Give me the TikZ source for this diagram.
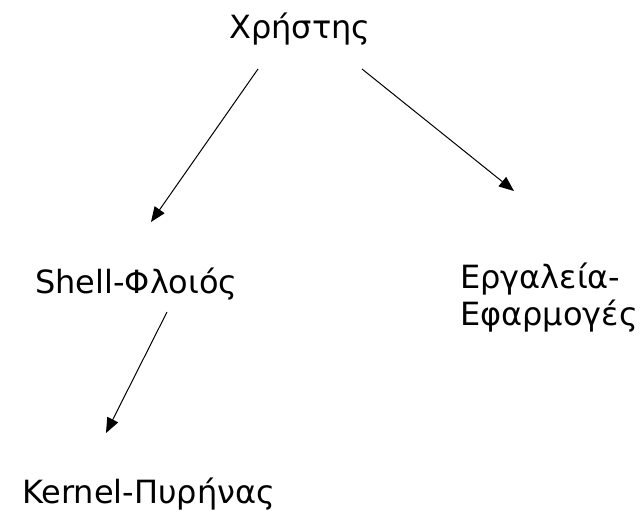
\documentclass[tikz,border=0pt]{standalone}
\usepackage{fontspec}
\setmainfont{DejaVu Sans}
\usetikzlibrary{arrows.meta}

\begin{document}
\begin{tikzpicture}[x=1pt,y=-1pt,
    every node/.style={inner sep=0pt,font=\fontsize{32}{37}\selectfont},
    arr/.style={-{Triangle[length=15pt,width=12pt]},line width=1pt}]
  \useasboundingbox (0,0) rectangle (641,515);
  \node[anchor=base] (user) at (300,38) {Χρήστης};
  \node[anchor=base west] (shell) at (35,293) {Shell-Φλοιός};
  \node[anchor=base west,align=left] (tools) at (460,325) {Εργαλεία-\\Εφαρμογές};
  \node[anchor=base west] (kernel) at (22,503) {Kernel-Πυρήνας};

  \draw[arr] ([shift={(-42,31)}]user.base) -- ([shift={(116,-71)}]shell.base west);
  \draw[arr] ([shift={(62,31)}]user.base) -- ([shift={(54,-134)}]tools.base west);
  \draw[arr] ([shift={(132,19)}]shell.base west) -- ([shift={(84,-70)}]kernel.base west);

\end{tikzpicture}
\end{document}
